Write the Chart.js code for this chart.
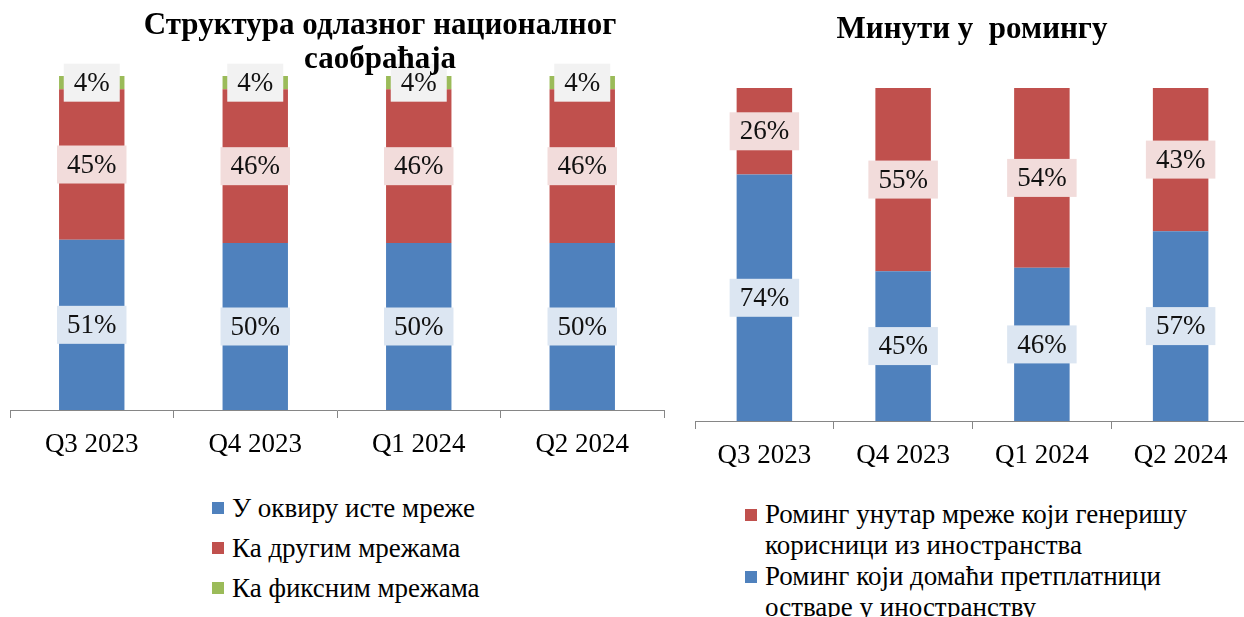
<!DOCTYPE html>
<html>
<head>
<meta charset="utf-8">
<script src="https://cdn.jsdelivr.net/npm/chart.js@4/dist/chart.umd.min.js"></script>
<style>
    body {
        margin: 0;
        width: 1244px;
        height: 617px;
        overflow: hidden;
        background: #fff;
        position: relative;
        font-family: "Liberation Serif", serif;
        color: #000;
    }
    canvas { position: absolute; top: 0; }
    #chart1 { left: 0; }
    #chart2 { left: 680px; }
    .title {
        position: absolute;
        text-align: center;
        font-weight: bold;
        white-space: pre;
    }
    .legend { position: absolute; font-size: 27px; }
    .legend .item { display: flex; align-items: flex-start; }
    .legend .box { width: 12px; height: 12px; flex: none; margin-right: 8px; }
</style>
</head>
<body>
<canvas id="chart1" width="680" height="481"></canvas>
<canvas id="chart2" width="580" height="491"></canvas>

<div class="title" style="left:80px; top:7px; width:600px; font-size:31px; line-height:34px;">Структура одлазног националног
саобраћаја</div>
<div class="title" style="left:772px; top:10px; width:400px; font-size:31px; line-height:36px;">Минути у  ромингу</div>

<div class="legend" id="legend1" style="left:212px; top:488px; line-height:40px;"></div>
<div class="legend" id="legend2" style="left:745px; top:499px; line-height:31px; width:480px;"></div>

<script>
const quarters = ["Q3 2023", "Q4 2023", "Q1 2024", "Q2 2024"]

// left chart - outgoing national traffic (%)
const sameNetwork = [51, 50, 50, 50]
const otherNetworks = [45, 46, 46, 46]
const fixedNetworks = [4, 4, 4, 4]

// right chart - roaming minutes (%)
const roamingAbroad = [74, 45, 46, 57]
const roamingInbound = [26, 55, 54, 43]

const BLUE = "#4F81BD"
const RED = "#C0504D"
const GREEN = "#9BBB59"
const FONT = '"Liberation Serif", serif'

// value boxes in the middle of every segment
const labelBoxes = {
    id: "labelBoxes",
    afterDatasetsDraw(chart) {
        const ctx = chart.ctx
        ctx.save()
        ctx.font = "27px " + FONT
        ctx.textAlign = "center"
        ctx.textBaseline = "middle"
        chart.data.datasets.forEach((ds, i) => {
            const meta = chart.getDatasetMeta(i)
            meta.data.forEach((bar, j) => {
                const text = ds.data[j] + "%"
                const w = ctx.measureText(text).width + 20
                const h = 38
                const y = (bar.y + bar.base) / 2
                ctx.fillStyle = ds.labelBg
                ctx.fillRect(bar.x - w / 2, y - h / 2, w, h)
                ctx.fillStyle = "#111"
                ctx.fillText(text, bar.x, y + 1)
            })
        })
        ctx.restore()
    },
}

const makeOptions = (padding) => ({
    responsive: false,
    animation: false,
    layout: { padding },
    plugins: {
        legend: { display: false },
        title: { display: false },
        tooltip: { enabled: false },
    },
    scales: {
        x: {
            stacked: true,
            border: { display: true, color: "#868686" },
            grid: {
                offset: true,
                drawOnChartArea: false,
                drawTicks: true,
                tickLength: 8,
                color: "#868686",
            },
            ticks: {
                color: "#000",
                padding: 11,
                font: { family: FONT, size: 27 },
            },
        },
        y: {
            stacked: true,
            display: false,
            min: 0,
            max: 100,
        },
    },
})

const bar = (label, data, color, labelBg) => ({
    label,
    data,
    backgroundColor: color,
    labelBg,
    categoryPercentage: 1,
    barPercentage: 0.4,
})

const chart1 = new Chart(document.getElementById("chart1"), {
    type: "bar",
    data: {
        labels: quarters,
        datasets: [
            bar("У оквиру исте мреже", sameNetwork, BLUE, "#DCE6F2"),
            bar("Ка другим мрежама", otherNetworks, RED, "#F2DCDB"),
            bar("Ка фиксним мрежама", fixedNetworks, GREEN, "#F2F2F2"),
        ],
    },
    options: makeOptions({ top: 76, bottom: 8.6, left: 10, right: 16 }),
    plugins: [labelBoxes],
})

const chart2 = new Chart(document.getElementById("chart2"), {
    type: "bar",
    data: {
        labels: quarters,
        datasets: [
            bar("Роминг који домаћи претплатници остваре у иностранству", roamingAbroad, BLUE, "#DCE6F2"),
            bar("Роминг унутар мреже који генеришу корисници из иностранства", roamingInbound, RED, "#F2DCDB"),
        ],
    },
    options: makeOptions({ top: 88, bottom: 7.6, left: 15, right: 10 }),
    plugins: [labelBoxes],
})

const buildLegend = (chart, el, boxTop, reverse) => {
    let sets = [...chart.data.datasets]
    if (reverse) sets = sets.reverse()
    for (let ds of sets) {
        const item = document.createElement("div")
        item.className = "item"
        const box = document.createElement("span")
        box.className = "box"
        box.style.background = ds.backgroundColor
        box.style.marginTop = boxTop + "px"
        const text = document.createElement("span")
        text.textContent = ds.label
        item.appendChild(box)
        item.appendChild(text)
        el.appendChild(item)
    }
}

buildLegend(chart1, document.getElementById("legend1"), 14, false)
buildLegend(chart2, document.getElementById("legend2"), 10, true)
</script>
</body>
</html>
